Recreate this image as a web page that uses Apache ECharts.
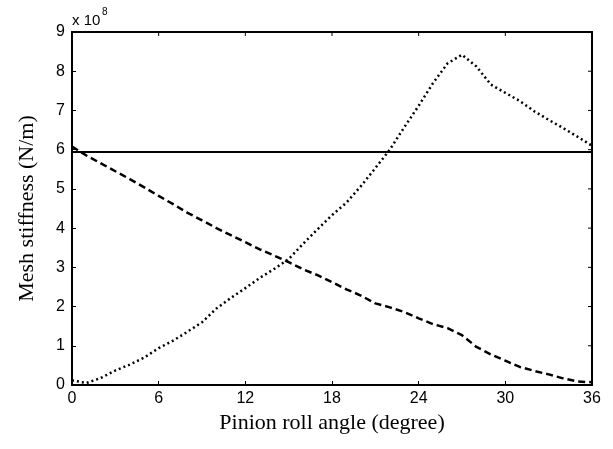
<!DOCTYPE html>
<html lang="en">
<head>
    <meta charset="UTF-8">
    <title>Mesh stiffness</title>
    <script src="https://cdn.jsdelivr.net/npm/echarts@6/dist/echarts.min.js"></script>
    <style>
        html, body { margin: 0; padding: 0; background: #fff; }
        #chart { width: 613px; height: 449px; }
    </style>
</head>
<body>
    <div id="chart"></div>
    <script>
        // 数据 (stiffness in 10^8 N/m)
        const angles = [0, 1, 2, 3, 4, 5, 6, 7, 8, 9, 10, 11, 12, 13, 14, 15, 16, 17, 18,
            19, 20, 21, 22, 23, 24, 25, 26, 27, 28, 29, 30, 31, 32, 33, 34, 35, 36];
        const dashedVals = [6.08, 5.85, 5.65, 5.45, 5.25, 5.04, 4.82, 4.61, 4.39, 4.2, 4.0,
            3.82, 3.64, 3.46, 3.3, 3.13, 2.95, 2.8, 2.62, 2.44, 2.28, 2.08, 1.98, 1.86,
            1.7, 1.55, 1.45, 1.27, 0.97, 0.78, 0.62, 0.46, 0.36, 0.27, 0.17, 0.09, 0.07];
        const dottedVals = [0.12, 0.05, 0.18, 0.37, 0.52, 0.7, 0.94, 1.13, 1.36, 1.6, 1.95,
            2.22, 2.47, 2.73, 2.96, 3.21, 3.6, 3.97, 4.33, 4.65, 5.07, 5.53, 6.0, 6.57,
            7.12, 7.7, 8.2, 8.42, 8.12, 7.66, 7.45, 7.24, 6.98, 6.76, 6.55, 6.33, 6.1];
        const solidAngles = [0, 36];
        const solidVals = [5.94, 5.94];
        const xTicks = [0, 6, 12, 18, 24, 30, 36];
        const yTicks = [0, 1, 2, 3, 4, 5, 6, 7, 8, 9];

        const pairs = (xs, ys) => xs.map((x, i) => [x, ys[i]]);

        let myChart = echarts.init(document.getElementById('chart'));

        const tickFont = { color: '#000', fontFamily: 'Liberation Sans', fontSize: 16 };
        const axLine = () => ({ show: true, onZero: false, lineStyle: { color: '#000', width: 1.5 } });
        const inTick = () => ({ show: true, inside: true, length: 4, lineStyle: { color: '#000', width: 1 } });

        const labelGraphics = [{
            type: 'text', id: 'exp1', left: 72, top: 13,
            style: { text: 'x 10', fontFamily: 'Liberation Sans', fontSize: 15, fill: '#000' }
        }, {
            type: 'text', id: 'exp2', left: 102, top: 7,
            style: { text: '8', fontFamily: 'Liberation Sans', fontSize: 10, fill: '#000' }
        }];

        let option = {
            animation: false,
            backgroundColor: '#fff',
            grid: {
                left: 72, top: 32, right: 21, bottom: 64,
                show: true, borderColor: '#000', borderWidth: 2, backgroundColor: 'transparent'
            },
            xAxis: {
                type: 'value', min: 0, max: 36, interval: 6,
                name: 'Pinion roll angle (degree)',
                nameLocation: 'middle', nameGap: 26,
                nameTextStyle: { color: '#000', fontFamily: 'Liberation Serif', fontSize: 22 },
                axisLine: axLine(), axisTick: inTick(),
                axisLabel: Object.assign({ margin: 6, formatter: v => xTicks.includes(v) ? v : '' }, tickFont),
                splitLine: { show: false }
            },
            yAxis: {
                type: 'value', min: 0, max: 9, interval: 1,
                name: 'Mesh stiffness (N/m)',
                nameLocation: 'middle', nameGap: 34,
                nameTextStyle: { color: '#000', fontFamily: 'Liberation Serif', fontSize: 22 },
                axisLine: axLine(), axisTick: inTick(),
                axisLabel: Object.assign({ margin: 7 }, tickFont),
                splitLine: { show: false }
            },
            graphic: labelGraphics,
            series: [{
                type: 'line', data: pairs(solidAngles, solidVals), symbol: 'none',
                lineStyle: { color: '#000', width: 2, type: 'solid' }
            }, {
                type: 'line', data: pairs(angles, dashedVals), symbol: 'none',
                lineStyle: { color: '#000', width: 2.5, type: [7, 4] }
            }, {
                type: 'line', data: pairs(angles, dottedVals), symbol: 'none',
                lineStyle: { color: '#000', width: 2.5, type: [2, 3] }
            }]
        };

        myChart.setOption(option);

        // 上/右边框及刻度 (box frame like MATLAB), positioned through the axes
        const px = p => myChart.convertToPixel({ gridIndex: 0 }, p);
        const tl = px([0, 9]), br = px([36, 0]);
        const frame = [{
            type: 'line', id: 'topEdge', z: 10,
            shape: { x1: tl[0], y1: tl[1], x2: br[0], y2: tl[1] },
            style: { stroke: '#000', lineWidth: 2 }
        }, {
            type: 'line', id: 'rightEdge', z: 10,
            shape: { x1: br[0], y1: tl[1], x2: br[0], y2: br[1] },
            style: { stroke: '#000', lineWidth: 2 }
        }];
        xTicks.forEach((v, i) => {
            const p = px([v, 9]);
            frame.push({
                type: 'line', id: 'tt' + i, z: 10,
                shape: { x1: p[0], y1: p[1], x2: p[0], y2: p[1] + 4 },
                style: { stroke: '#000', lineWidth: 1 }
            });
        });
        yTicks.forEach((v, i) => {
            const p = px([36, v]);
            frame.push({
                type: 'line', id: 'rt' + i, z: 10,
                shape: { x1: p[0], y1: p[1], x2: p[0] - 4, y2: p[1] },
                style: { stroke: '#000', lineWidth: 1 }
            });
        });
        myChart.setOption({ graphic: labelGraphics.concat(frame) });
    </script>
</body>
</html>
